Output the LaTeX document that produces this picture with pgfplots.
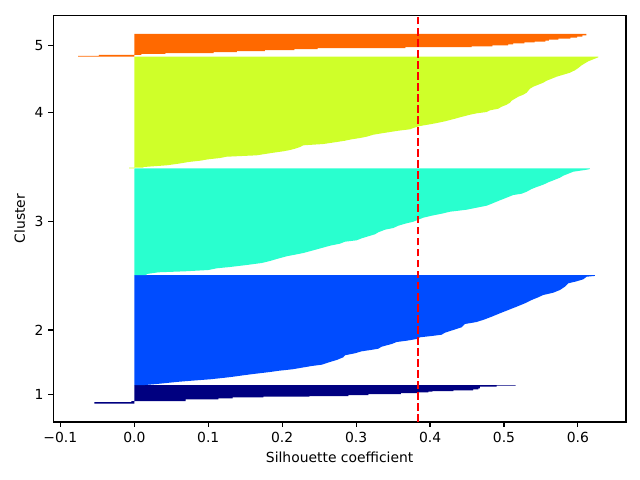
\documentclass[border=0pt]{standalone}
\usepackage{fontspec}
\setmainfont{DejaVu Sans}
\usepackage{pgfplots}
\pgfplotsset{compat=1.18}
\definecolor{c1}{rgb}{0,0,0.5}
\definecolor{c2}{rgb}{0,0.3,1}
\definecolor{c3}{rgb}{0.16,1,0.81}
\definecolor{c4}{rgb}{0.81,1,0.16}
\definecolor{c5}{rgb}{1,0.41,0}
\begin{document}
\begin{tikzpicture}
\useasboundingbox (-38.4pt,-41.76pt) rectangle (422.4pt,303.84pt);
\begin{axis}[
 at={(0,0)}, anchor=south west, scale only axis,
 width=412.3pt, height=292.8pt,
 xmin=-0.1095, xmax=0.665, ymin=-18.5, ymax=388.2,
 xtick={-0.1,0,0.1,0.2,0.3,0.4,0.5,0.6},
 xticklabels={−0.1,0.0,0.1,0.2,0.3,0.4,0.5,0.6},
 ytick={9.25,73.5,181.85,291.1,358.35},
 yticklabels={1,2,3,4,5},
 tick align=outside, tick pos=left,
 major tick length=3.5pt,
 every tick/.style={black, line width=0.8pt},
 axis line style={line width=0.8pt},
 tick label style={font=\fontsize{10}{12}\selectfont},
 label style={font=\fontsize{10}{12}\selectfont},
 xlabel={Silhouette coefficient}, ylabel={Cluster},
 axis on top=false,
]
% cluster 1
\addplot[fill=c1, draw=none] coordinates {
(0,0) (-0.054,0) (-0.054,1.3) (-0.004,1.3) (-0.004,2.5) (0.0695,2.5) (0.0695,4.2)
(0.1136,4.2) (0.1136,5.2) (0.133,5.2) (0.133,6.2) (0.1745,6.2) (0.1745,6.8)
(0.2367,6.8) (0.2367,7.5) (0.2894,7.5) (0.2894,8.5) (0.3165,8.5) (0.3165,9.5)
(0.3607,9.5) (0.3607,10.5) (0.383,10.5) (0.383,11.2) (0.3976,11.2) (0.3976,11.8)
(0.403,11.8) (0.403,12.5) (0.4314,12.5) (0.4314,13.2) (0.4584,13.2) (0.4584,14.2)
(0.4652,14.2) (0.4652,15.2) (0.4675,15.2) (0.4675,16.8) (0.490,16.8) (0.490,17.8)
(0.5157,17.8) (0.5157,18.5) (0,18.5)};
% cluster 2
\addplot[fill=c2, draw=none] coordinates {
(0,18.5) (0.0145,18.5) (0.0302,19.5) (0.0609,21.8) (0.0776,22.8) (0.1024,24.2)
(0.1227,25.8) (0.1339,26.8) (0.1474,28.2) (0.161,29.5) (0.1835,31.5) (0.1961,32.8)
(0.2137,34.2) (0.2241,35.5) (0.2399,37.5) (0.2534,38.8) (0.2646,41.5) (0.2737,43.5)
(0.2826,46.2) (0.2849,48.2) (0.2984,50.2) (0.3075,52.2) (0.3196,53.5) (0.330,54.8)
(0.3345,56.8) (0.3413,58.2) (0.3481,59.5) (0.3548,61.5) (0.3683,62.8) (0.3819,64.5)
(0.3863,66.2) (0.4021,67.5) (0.4157,68.8) (0.4201,70.8) (0.4314,73.5) (0.4427,76.2)
(0.4472,79.5) (0.463,81.5) (0.4742,84.2) (0.4833,86.8) (0.4945,90.2) (0.5058,93.5)
(0.5171,96.8) (0.5283,100.2) (0.5374,103.5) (0.5463,106.2) (0.5531,108.5)
(0.5666,110.8) (0.5757,113.5) (0.5824,116.8) (0.5869,120.2) (0.5982,122.2)
(0.6072,124.2) (0.6118,126.8) (0.623,127.6) (0.623,128.5) (0,128.5)};
% cluster 3
\addplot[fill=c3, draw=none] coordinates {
(0,128.5) (0.0167,128.5) (0.0167,129.5) (0.0325,131.2) (0.0686,132.2) (0.1001,133.5)
(0.1114,135.2) (0.1294,136.5) (0.1519,138.5) (0.1722,140.5) (0.1835,142.5)
(0.1925,144.5) (0.206,147.2) (0.2286,150.5) (0.2421,153.2) (0.2534,155.5)
(0.2646,157.8) (0.2781,159.8) (0.2849,161.8) (0.3007,163.2) (0.3075,165.2)
(0.3164,167.2) (0.3255,169.2) (0.330,171.2) (0.339,173.8) (0.3503,175.5)
(0.3571,177.8) (0.3661,179.8) (0.3773,181.8) (0.3841,183.8) (0.3909,185.8)
(0.4021,187.8) (0.4157,189.8) (0.4269,191.8) (0.4495,193.8) (0.463,195.8)
(0.4765,197.8) (0.4856,200.5) (0.4945,203.2) (0.5035,205.8) (0.5126,208.5)
(0.5238,209.8) (0.5306,211.8) (0.5374,214.5) (0.5441,216.5) (0.5531,218.8)
(0.5599,221.2) (0.5689,223.8) (0.5757,225.8) (0.5802,227.8) (0.5869,229.8)
(0.5937,231.8) (0.6118,233.8) (0.6163,234.5) (0.6163,235.2) (0,235.2)};
% cluster 4
\addplot[fill=c4, draw=none] coordinates {
(0,235.2) (-0.007,235.2) (-0.007,236.0) (0.0122,236.0) (0.0122,236.5) (0.0438,238.2)
(0.0596,239.8) (0.0731,241.5) (0.0888,242.8) (0.1001,244.2) (0.1159,245.5)
(0.1249,246.8) (0.1655,248.2) (0.1767,249.5) (0.188,250.8) (0.2015,252.2)
(0.2106,253.5) (0.2173,254.8) (0.2241,256.5) (0.2286,258.2) (0.2556,259.5)
(0.2737,261.5) (0.2849,262.8) (0.2939,264.2) (0.3052,265.5) (0.3142,266.8)
(0.3232,268.8) (0.3345,270.2) (0.3458,271.5) (0.3571,272.8) (0.3728,274.2)
(0.3773,275.5) (0.3863,277.5) (0.4021,279.5) (0.4111,280.8) (0.4202,282.2)
(0.4269,283.5) (0.4337,284.8) (0.4404,286.2) (0.4472,287.5) (0.454,288.8)
(0.463,290.2) (0.4765,291.5) (0.481,293.2) (0.4923,294.8) (0.4968,296.8)
(0.5035,298.8) (0.5081,300.8) (0.5103,302.8) (0.5148,304.8) (0.5193,306.8)
(0.526,308.8) (0.5306,310.8) (0.5351,314.8) (0.5396,316.8) (0.5463,318.8)
(0.5531,320.8) (0.5576,322.8) (0.5644,324.8) (0.5711,326.8) (0.5802,328.8)
(0.5892,330.8) (0.5959,333.2) (0.6005,335.5) (0.605,338.2) (0.6095,340.2)
(0.614,342.2) (0.6208,344.2) (0.6275,346.2) (0.6275,347.0) (0,347.0)};
% cluster 5
\addplot[fill=c5, draw=none] coordinates {
(0,347.0) (-0.076,347.0) (-0.076,347.6) (-0.048,347.6) (-0.048,348.6)
(0.0095,348.6) (0.0095,349.6) (0.0422,349.6) (0.0422,350.5) (0.1072,350.5)
(0.1072,351.5) (0.1386,351.5) (0.1386,352.4) (0.1765,352.4) (0.1765,353.4)
(0.2164,353.4) (0.2164,354.4) (0.2481,354.4) (0.2481,355.3) (0.3665,355.3)
(0.3665,356.3) (0.4564,356.3) (0.4564,357.2) (0.4844,357.2) (0.4844,358.2)
(0.5055,358.2) (0.5055,359.2) (0.5125,359.2) (0.5125,360.1) (0.5275,360.1)
(0.5275,361.1) (0.5415,361.1) (0.5415,362.0) (0.556,362.0) (0.556,363.0)
(0.5607,363.0) (0.5607,364.0) (0.5734,364.0) (0.5734,364.9) (0.5897,364.9)
(0.5897,365.9) (0.599,365.9) (0.599,366.8) (0.6061,366.8) (0.6061,368.1)
(0.6116,368.1) (0.6116,369.7) (0,369.7)};
% average
\addplot[red, line width=1.5pt, dash pattern=on 5.55pt off 2.4pt] coordinates {(0.3832,-18.5) (0.3832,388.2)};
\end{axis}
\end{tikzpicture}
\end{document}
